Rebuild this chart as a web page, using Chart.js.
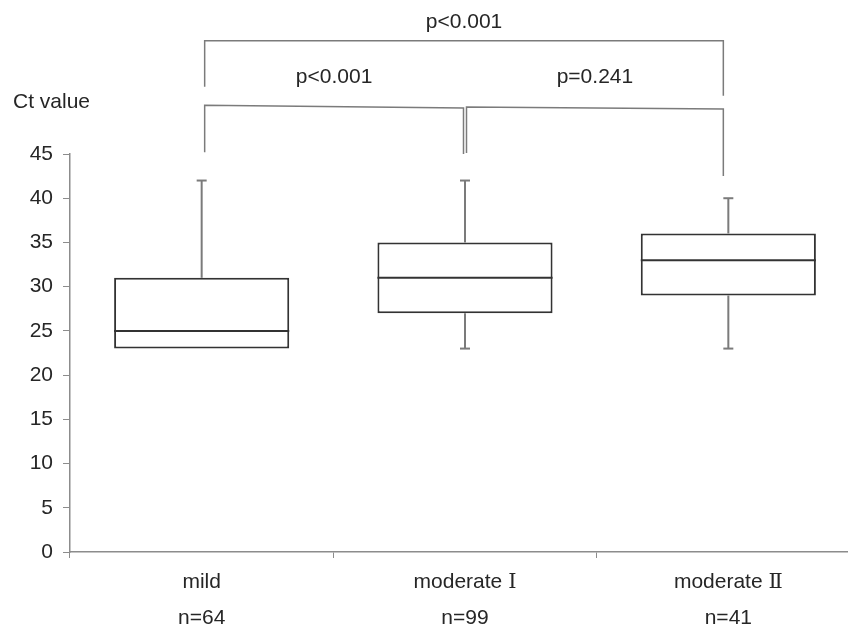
<!DOCTYPE html>
<html>
<head>
<meta charset="utf-8">
<script src="https://cdn.jsdelivr.net/npm/chart.js@4"></script>
<style>
  html, body { margin: 0; padding: 0; background: #fff; overflow: hidden; }
  #wrap { width: 860px; height: 630px; }
</style>
</head>
<body>
<div id="wrap"><canvas id="ctChart" width="860" height="630"></canvas></div>
<script>
/* ---- data ---- */
const groups      = ["mild", "moderate Ⅰ", "moderate Ⅱ"];
const counts      = [64, 99, 41];
const whiskerLow  = [23, 23, 23];
const q1          = [23, 27, 29];
const median      = [25, 31, 33];
const q3          = [31, 35, 36];
const whiskerHigh = [42, 42, 40];

// significance brackets: group pair, p text, bar height (left/right end),
// leg bottoms (left/right) and label height, all in Ct units
const pairs      = [[0, 2], [0, 1], [1, 2]];
const pTexts     = ["p<0.001", "p<0.001", "p=0.241"];
const barLevels  = [[57.8, 57.8], [50.5, 50.2], [50.3, 50.1]];
const legEnds    = [[52.6, 51.6], [45.2, 45.0], [45.1, 42.5]];
const pLevels    = [59.9, 53.7, 53.7];

/* ---- look ---- */
// Liberation Sans has no roman numeral glyphs, DejaVu Serif supplies Ⅰ / Ⅱ
const FONT = '"Liberation Sans", "DejaVu Serif", sans-serif';
const TEXT = "#262626";
const AXIS = "#8c8c8c";
const BOX  = "#333333";
const WHISK = "#7b7b7b";

const boxExtras = {
  id: "boxExtras",
  afterDatasetsDraw(chart) {
    const { ctx, scales: { x, y } } = chart;
    const meta = chart.getDatasetMeta(0);
    ctx.save();
    ctx.lineCap = "butt";

    // whiskers, caps and medians
    meta.data.forEach((bar, i) => {
      const cx = bar.x;
      const half = bar.width / 2;
      ctx.strokeStyle = WHISK;
      ctx.lineWidth = 2;
      ctx.beginPath();
      ctx.moveTo(cx, y.getPixelForValue(q3[i]));
      ctx.lineTo(cx, y.getPixelForValue(whiskerHigh[i]));
      ctx.moveTo(cx, y.getPixelForValue(q1[i]));
      ctx.lineTo(cx, y.getPixelForValue(whiskerLow[i]));
      ctx.stroke();
      [whiskerHigh[i], whiskerLow[i]].forEach(v => {
        if (v === q1[i] || v === q3[i]) return;
        const py = y.getPixelForValue(v);
        ctx.beginPath();
        ctx.moveTo(cx - 5, py);
        ctx.lineTo(cx + 5, py);
        ctx.stroke();
      });
      ctx.strokeStyle = BOX;
      const my = y.getPixelForValue(median[i]);
      ctx.beginPath();
      ctx.moveTo(cx - half, my);
      ctx.lineTo(cx + half, my);
      ctx.stroke();
    });

    // brackets above the boxes
    ctx.strokeStyle = WHISK;
    ctx.lineWidth = 1.5;
    ctx.fillStyle = TEXT;
    ctx.font = "21px " + FONT;
    ctx.textAlign = "center";
    ctx.textBaseline = "middle";
    pairs.forEach(([a, b], k) => {
      let xa = x.getPixelForValue(a);
      let xb = x.getPixelForValue(b);
      // shared middle group: keep the two inner legs apart
      if (k === 1) xb -= 1.5;
      if (k === 2) xa += 1.5;
      if (a === 0) xa += 3;
      if (b === 2) xb -= 5;
      const ya = y.getPixelForValue(barLevels[k][0]);
      const yb = y.getPixelForValue(barLevels[k][1]);
      ctx.beginPath();
      ctx.moveTo(xa, y.getPixelForValue(legEnds[k][0]));
      ctx.lineTo(xa, ya);
      ctx.lineTo(xb, yb);
      ctx.lineTo(xb, y.getPixelForValue(legEnds[k][1]));
      ctx.stroke();
      ctx.fillText(pTexts[k], (xa + xb) / 2, y.getPixelForValue(pLevels[k]));
    });

    // axis caption
    ctx.textAlign = "left";
    ctx.fillText("Ct value", 13, y.getPixelForValue(50.8));
    ctx.restore();
  }
};

new Chart(document.getElementById("ctChart"), {
  type: "bar",
  data: {
    labels: groups.map((g, i) => [g, "n=" + counts[i]]),
    datasets: [{
      data: q1.map((v, i) => [v, q3[i]]),
      backgroundColor: "#ffffff",
      borderColor: BOX,
      borderWidth: 2,
      borderSkipped: false,
      barPercentage: 0.665,
      categoryPercentage: 1
    }]
  },
  options: {
    responsive: false,
    animation: false,
    layout: { padding: { top: 154, right: 0, bottom: 0, left: 0 } },
    plugins: { legend: { display: false }, tooltip: { enabled: false } },
    scales: {
      x: {
        afterFit: s => { s.height = 78; },
        border: { color: AXIS, width: 1.5 },
        grid: { drawOnChartArea: false, color: AXIS, tickLength: 6, offset: true },
        ticks: {
          color: TEXT,
          padding: 6,
          maxRotation: 0,
          font: { family: FONT, size: 21, lineHeight: "36px" }
        }
      },
      y: {
        min: 0,
        max: 45,
        afterFit: s => { s.width = 70; },
        border: { color: AXIS, width: 1.5 },
        grid: { drawOnChartArea: false, color: AXIS, tickLength: 7 },
        ticks: {
          stepSize: 5,
          color: TEXT,
          padding: 10,
          font: { family: FONT, size: 21 }
        }
      }
    }
  },
  plugins: [boxExtras]
});
</script>
</body>
</html>
